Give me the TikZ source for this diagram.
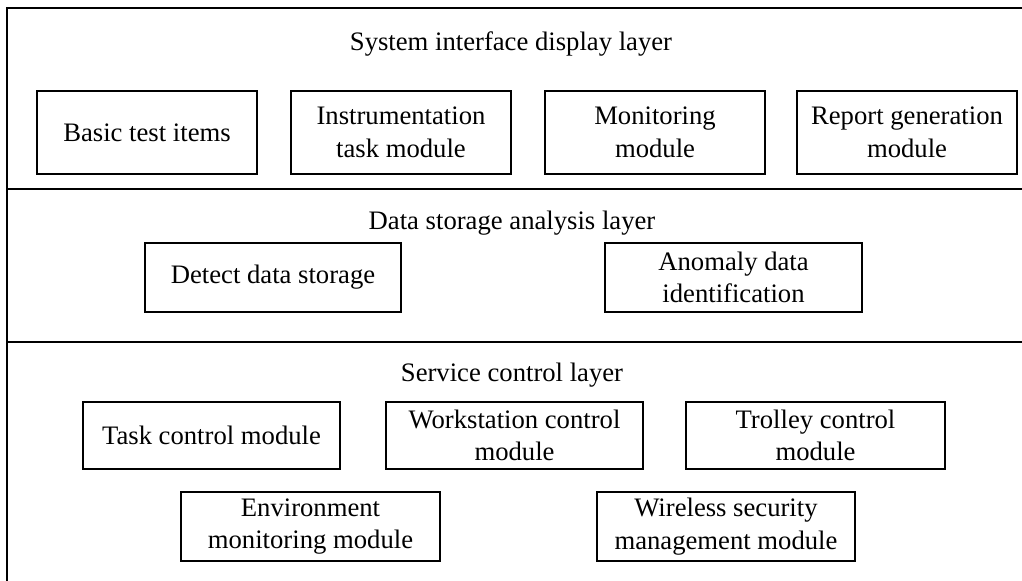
\documentclass[tikz,border=0pt]{standalone}
\usepackage{fontspec}
\setmainfont{Liberation Serif}
\definecolor{FrameInk}{HTML}{000000}

\begin{document}
\begin{tikzpicture}[x=0.75pt,y=-0.75pt,
    modbox/.style={draw=FrameInk,line width=1.1pt,align=center,inner sep=2pt,
      font=\fontsize{20}{24.5}\selectfont},
    layertitle/.style={text=FrameInk,font=\fontsize{20}{24.5}\selectfont}]
  \useasboundingbox (0,0) rectangle (1022,581);
  % frame and layer dividers
  \draw[FrameInk,line width=1.1pt] (1022,8) -- (7,8) -- (7,581);
  \draw[FrameInk,line width=1.1pt] (7,189) -- (1022,189);
  \draw[FrameInk,line width=1.1pt] (7,342) -- (1022,342);
  % layer titles
  \node[layertitle] (displaytitle) at (511,44) {System interface display layer};
  \node[layertitle] (storagetitle) at (512,223) {Data storage analysis layer};
  \node[layertitle] (servicetitle) at (512,375) {Service control layer};
  % modules
  \foreach \nm/\cx/\cy/\w/\h/\txt in {
    basic/147/132.5/220/83/{Basic test items},
    instr/401/132.5/220/83/{Instrumentation\\task module},
    monit/655/132.5/220/83/{Monitoring\\module},
    report/907/132.5/220/83/{Report generation\\module},
    detect/273/277.5/256/69/{Detect data storage},
    anomaly/733.5/277.5/257/69/{Anomaly data\\identification},
    taskctl/211.5/435.5/257/67/{Task control module},
    workst/514.5/435.5/257/67/{Workstation control\\module},
    trolley/815.5/435.5/259/67/{Trolley control\\module},
    envmon/310.5/526.5/259/69/{Environment\\monitoring module},
    wireless/726/526.5/258/69/{Wireless security\\management module}}
  {
    \node[modbox,minimum width=\w*0.75pt,minimum height=\h*0.75pt] (\nm) at (\cx,\cy) {\txt};
  }
\end{tikzpicture}
\end{document}
